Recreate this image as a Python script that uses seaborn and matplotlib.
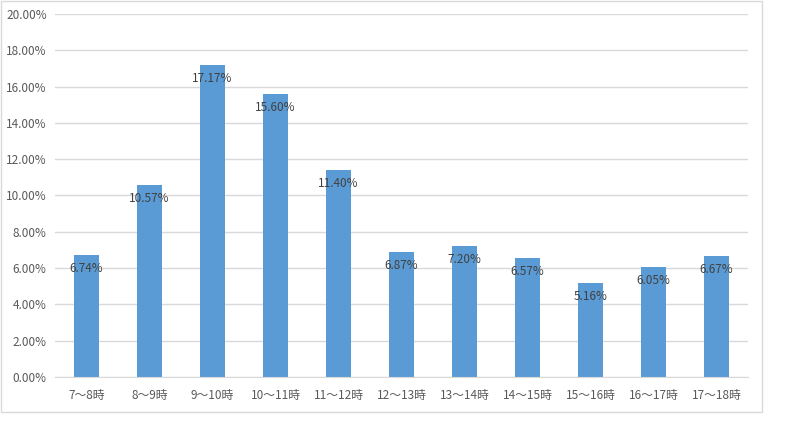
import matplotlib
matplotlib.use("Agg")
import matplotlib.pyplot as plt
import seaborn as sns
import pandas as pd
from matplotlib.patches import Rectangle

hours = ["7～8時", "8～9時", "9～10時", "10～11時", "11～12時", "12～13時",
         "13～14時", "14～15時", "15～16時", "16～17時", "17～18時"]
share = [6.74, 10.57, 17.17, 15.60, 11.40, 6.87, 7.20, 6.57, 5.16, 6.05, 6.67]
y_ticks = [0, 2, 4, 6, 8, 10, 12, 14, 16, 18, 20]

BAR = "#5b9bd5"
GRID = "#d9d9d9"
TICK = "#595959"
LABEL = "#404040"

sns.set_style("white")
plt.rcParams["font.family"] = ["Noto Sans CJK JP", "DejaVu Sans"]

df = pd.DataFrame({"hour": hours, "share": share})

fig = plt.figure(figsize=(7.86, 4.26), dpi=100, facecolor="white")
ax = fig.add_axes([55 / 786, 1 - 377 / 426, (748 - 55) / 786, (377 - 14) / 426])

sns.barplot(data=df, x="hour", y="share", color=BAR, width=0.4, saturation=1,
            linewidth=0, ax=ax, zorder=3)

ax.set_ylim(0, 20)
ax.set_yticks(y_ticks)
ax.set_yticklabels([f"{v:.2f}%" for v in y_ticks])
ax.yaxis.grid(True, color=GRID, linewidth=1)
ax.set_axisbelow(True)
for s in ["top", "right", "left"]:
    ax.spines[s].set_visible(False)
ax.spines["bottom"].set_color(GRID)
ax.spines["bottom"].set_zorder(4)
ax.tick_params(axis="both", length=0, colors=TICK, labelsize=8.5)
ax.tick_params(axis="x", pad=9)
ax.tick_params(axis="y", pad=6)
ax.set_xlabel("")
ax.set_ylabel("")

for bar, v in zip(ax.patches, share):
    ax.annotate(f"{v:.2f}%", (bar.get_x() + bar.get_width() / 2, bar.get_height()),
                xytext=(0, -5), textcoords="offset points", ha="center", va="top",
                color=LABEL, fontsize=8.5, zorder=5)

# chart-area border
fig.patches.append(Rectangle((0.5 / 786, 1 - 412 / 426), 761 / 786, 411.5 / 426,
                             transform=fig.transFigure, fill=False,
                             edgecolor=GRID, linewidth=1))

fig.savefig("out.png", dpi=100, facecolor="white")
